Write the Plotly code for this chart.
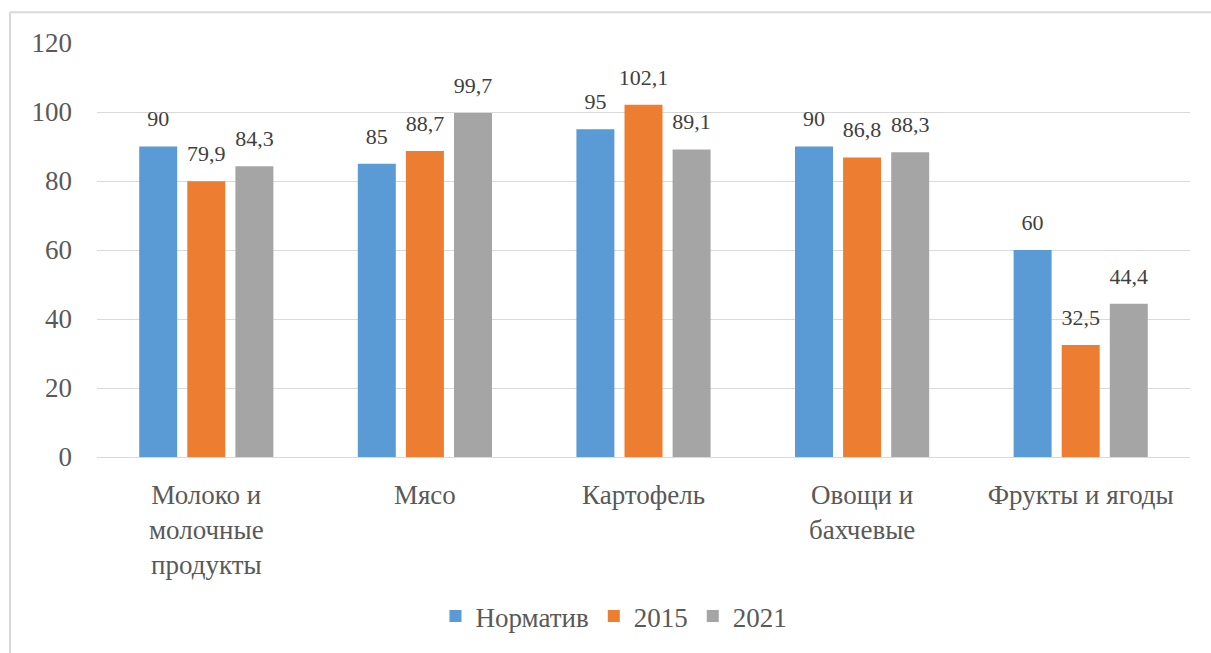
import plotly.graph_objects as go

categories = ["Молоко и<br>молочные<br>продукты", "Мясо", "Картофель", "Овощи и<br>бахчевые", "Фрукты и ягоды"]
norm = [90, 85, 95, 90, 60]
y2015 = [79.9, 88.7, 102.1, 86.8, 32.5]
y2021 = [84.3, 99.7, 89.1, 88.3, 44.4]
series_names = ["Норматив", "2015", "2021"]
colors = ["#5B9BD5", "#ED7D31", "#A5A5A5"]

FONT = "Liberation Serif, Times New Roman, serif"

def fmt(v):
    s = ("%g" % v)
    return s.replace(".", ",")

fig = go.Figure()
for name, vals, col in zip(series_names, [norm, y2015, y2021], colors):
    fig.add_trace(go.Bar(
        x=categories, y=vals, name=name,
        marker=dict(color=col, line=dict(width=0)),
        hoverinfo="skip",
    ))
for name, vals in zip(series_names, [norm, y2015, y2021]):
    fig.add_trace(go.Scatter(
        x=categories, y=vals, mode="markers+text", showlegend=False,
        marker=dict(size=22, opacity=0),
        text=[fmt(v) for v in vals], textposition="top center",
        textfont=dict(family=FONT, size=22, color="#404040"),
        cliponaxis=False, hoverinfo="skip",
    ))

W, H = 1211, 653
L, R, T, B = 97, 21, 43, 192
pw, ph = W - L - R, H - T - B
def px(x): return (x - L) / pw
def py(y): return (H - B - y) / ph

fig.update_layout(
    width=W, height=H,
    margin=dict(l=L, r=R, t=T, b=B),
    paper_bgcolor="white", plot_bgcolor="white",
    barmode="group", bargap=0.34, bargroupgap=0.21,
    scattermode="group", scattergap=0.34,
    font=dict(family=FONT, color="#595959", size=27),
    showlegend=True,
    legend=dict(orientation="h", x=px(614), y=py(622), xanchor="center", yanchor="middle",
                font=dict(family=FONT, size=27, color="#595959"),
                itemwidth=30, tracegroupgap=0),
    xaxis=dict(showgrid=False, showline=False, ticks="", ticklabelstandoff=19,
               tickfont=dict(family=FONT, size=27, color="#595959")),
    yaxis=dict(range=[0, 120], dtick=20, showgrid=True, gridcolor="#D9D9D9", gridwidth=1,
               zeroline=True, zerolinecolor="#D9D9D9", zerolinewidth=1,
               showline=False, ticks="", ticklabelstandoff=24,
               tickfont=dict(family=FONT, size=27, color="#595959")),
    shapes=[
        dict(type="line", xref="paper", yref="paper", x0=px(10), x1=px(1260), y0=py(12), y1=py(12),
             line=dict(color="#D9D9D9", width=2)),
        dict(type="line", xref="paper", yref="paper", x0=px(10), x1=px(10), y0=py(12), y1=py(700),
             line=dict(color="#D9D9D9", width=2)),
    ],
)
fig.write_html("out.html", config={"displayModeBar": False},
               post_script="document.body.style.margin='0';")
